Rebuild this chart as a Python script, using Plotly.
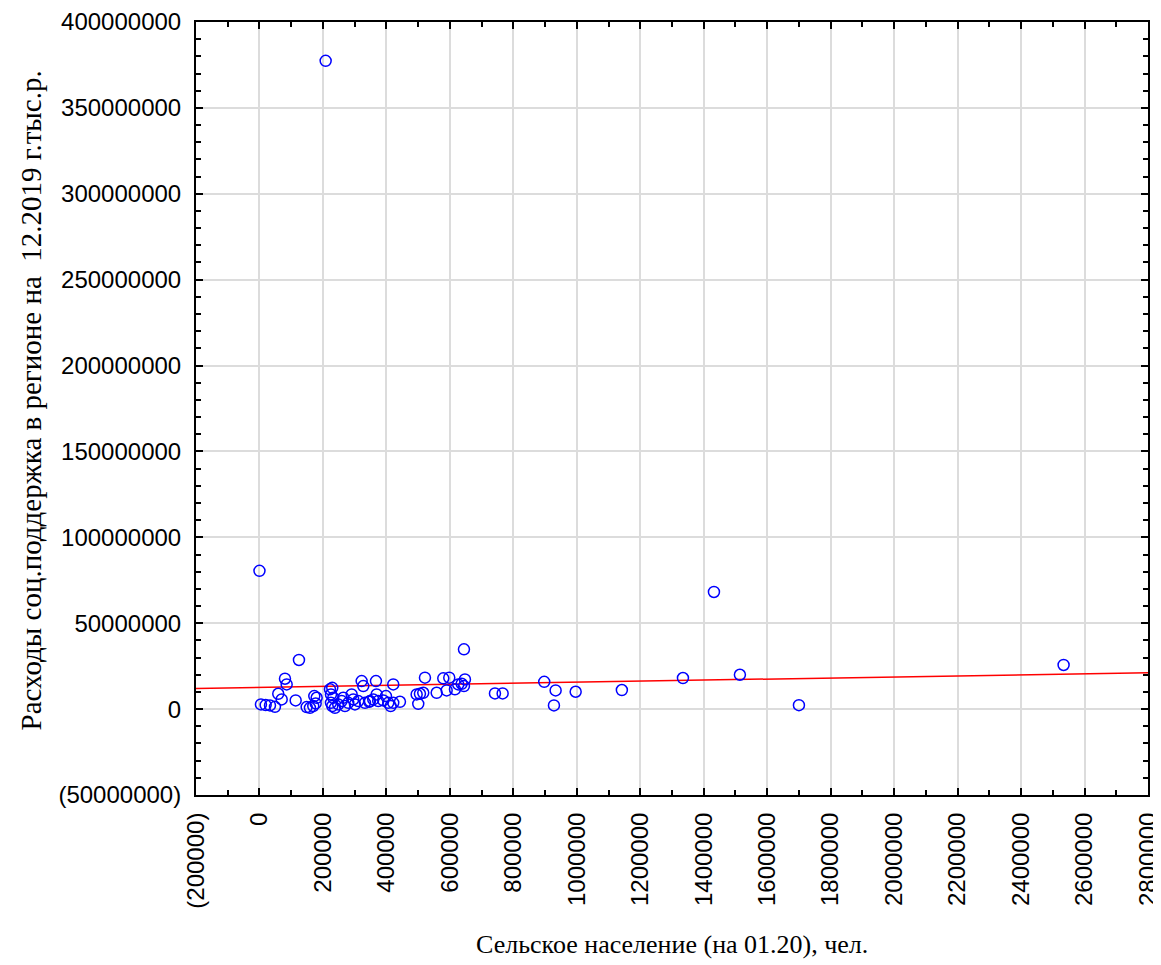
import numpy as np
import plotly.graph_objects as go

# Rural population (01.2020), persons
rural_pop = [
    4700, 19500, 33100, 48800, 59200, 70000, 80400, 85700, 124500, 114100,
    148700, 159100, 169500, 177100, 180200, 172700,
    222200, 229400, 225300, 232500, 225300, 229400, 237900, 248300, 259000, 264100,
    269400, 279800, 290500, 295600, 300900, 311300, 322000, 327100, 332400, 348200, 358600,
    367100, 421600, 346000, 369300, 374300, 390100, 398600, 405900, 413400, 421600,
    442700, 521500, 495300, 505700, 516100, 500400, 558400, 579200, 598100, 589900,
    616000, 626400, 637100, 647500, 644400, 644400,
    742100, 766300, 897400, 933300, 928000, 996400, 1142000, 1334500, 1432200,
    1514000, 1700000, 2534000, 208600, 0,
]
# Social support spending (12.2019), thousand rubles
spending = [
    2.74e6, 2.33e6, 2.16e6, 1.34e6, 8.92e6, 5.66e6, 17.7e6, 14.4e6, 28.6e6, 5.07e6,
    1.17e6, 0.76e6, 1.75e6, 3.32e6, 6.59e6, 7.58e6,
    11.5e6, 12.4e6, 8.57e6, 6.59e6, 3.67e6, 1.75e6, 0.76e6, 2.74e6, 4.66e6, 6.59e6,
    1.75e6, 3.67e6, 8.57e6, 5.66e6, 2.74e6, 4.66e6, 16.3e6, 13.4e6, 3.67e6, 4.66e6, 5.66e6,
    16.3e6, 14.4e6, 4.26e6, 8.57e6, 4.66e6, 5.07e6, 7.58e6, 3.67e6, 1.75e6, 3.67e6,
    4.26e6, 18.3e6, 8.57e6, 8.92e6, 9.5e6, 3.09e6, 9.5e6, 17.9e6, 18.3e6, 10.9e6,
    11.5e6, 14.4e6, 14.75e6, 17.3e6, 13.4e6, 34.8e6,
    9.15e6, 9.15e6, 15.9e6, 10.9e6, 2.16e6, 10.1e6, 11.1e6, 18.1e6, 68.2e6,
    20.0e6, 2.3e6, 25.7e6, 377.4e6, 80.5e6,
]

# Fitted regression line
fit_intercept = 12.6e6
fit_slope = 3.06
fit_x = [-200000, 2800000]
fit_y = [fit_intercept + fit_slope * v for v in fit_x]

x_tickvals = list(range(-200000, 2800001, 200000))
x_ticktext = ["(200000)" if v < 0 else str(v) for v in x_tickvals]
y_tickvals = list(range(-50000000, 400000001, 50000000))
y_ticktext = ["(50000000)" if v < 0 else str(v) for v in y_tickvals]

x_title = "Сельское население (на 01.20), чел."
y_title = "Расходы соц.поддержка в регионе на\u00a0 12.2019 г.тыс.р."

fig = go.Figure()
fig.add_trace(go.Scatter(
    x=fit_x, y=fit_y, mode="lines",
    line=dict(color="#ff0000", width=1.5), showlegend=False, hoverinfo="skip"))
fig.add_trace(go.Scatter(
    x=rural_pop, y=spending, mode="markers",
    marker=dict(symbol="circle-open", size=11, color="#0000ff",
                line=dict(color="#0000ff", width=1.5)),
    showlegend=False))

tickfont = dict(family="Liberation Sans, Arial, sans-serif", size=24, color="black")

fig.update_xaxes(
    range=[-200000, 2800000], tickmode="array", tickvals=x_tickvals, ticktext=x_ticktext,
    tickangle=-90, tickfont=tickfont, ticks="inside", ticklen=7, tickwidth=1.5, tickcolor="black",
    showline=True, linecolor="black", linewidth=2, mirror="ticks",
    showgrid=True, gridcolor="#dcdcdc", gridwidth=1.5, zeroline=False,
    minor=dict(tickvals=list(np.arange(-100000, 2800000, 200000)), ticks="inside",
               ticklen=5, tickwidth=1.5, tickcolor="black", showgrid=False),
    ticklabelstandoff=6,
)
fig.update_yaxes(
    range=[-50000000, 400000000], tickmode="array", tickvals=y_tickvals, ticktext=y_ticktext,
    tickfont=tickfont, ticks="inside", ticklen=7, tickwidth=1.5, tickcolor="black",
    showline=True, linecolor="black", linewidth=2, mirror="ticks",
    showgrid=True, gridcolor="#dcdcdc", gridwidth=1.5, zeroline=False,
    minor=dict(tickvals=[v for v in range(-40000000, 400000000, 10000000) if v % 50000000 != 0],
               ticks="inside", ticklen=5, tickwidth=1.5, tickcolor="black", showgrid=False),
    ticklabelstandoff=8,
)

# page body has an 8px margin, so the figure is sized/placed to compensate
W, H = 1153, 957
L, T, R = 188, 14, 13
plot_h = 773
B = H - T - plot_h
plot_w = W - L - R

fig.add_annotation(text=x_title, xref="paper", yref="paper", x=0.5,
                   y=-(945 - 795) / plot_h, xanchor="center", yanchor="middle",
                   showarrow=False,
                   font=dict(family="Liberation Serif, Times New Roman, serif", size=26, color="black"))
fig.add_annotation(text=y_title, xref="paper", yref="paper", x=-(196 - 30) / plot_w,
                   y=(408 - 400) / plot_h + 0.5,
                   xanchor="center", yanchor="middle", textangle=-90, showarrow=False,
                   font=dict(family="Liberation Serif, Times New Roman, serif", size=29, color="black"))

fig.update_layout(
    width=W, height=H,
    margin=dict(l=L, r=R, t=T, b=B, autoexpand=False),
    paper_bgcolor="white", plot_bgcolor="white",
)

fig.write_html("out.html")
